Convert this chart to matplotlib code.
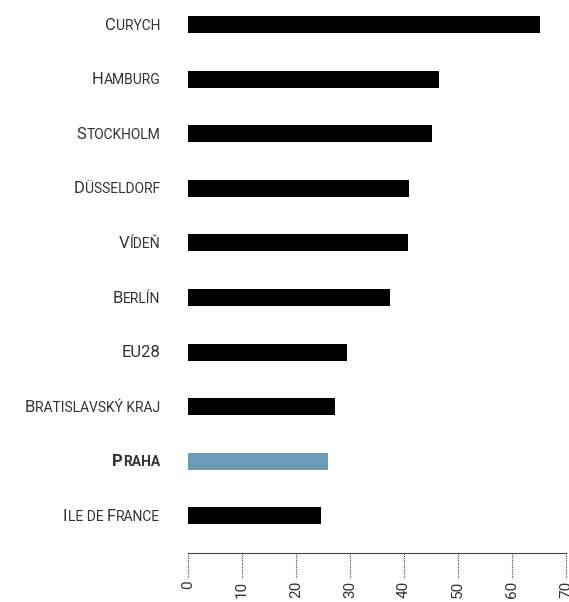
import matplotlib
matplotlib.use('Agg')
import matplotlib.pyplot as plt
import matplotlib.transforms as mtrans

cities = ['Curych', 'Hamburg', 'Stockholm', 'Düsseldorf', 'Vídeň', 'Berlín',
          'EU28', 'Bratislavský kraj', 'Praha', 'Ile de France']
values = [65.2, 46.5, 45.2, 40.9, 40.7, 37.4, 29.4, 27.2, 25.9, 24.6]
highlight = 'Praha'
ticks = [0, 10, 20, 30, 40, 50, 60, 70]

plt.rcParams['font.family'] = ['Roboto', 'DejaVu Sans']

fig = plt.figure(figsize=(5.69, 6.02), dpi=100)
ax = fig.add_axes([188 / 569, 49 / 602, 378 / 569, 553 / 602])

colors = ['#6a9cb8' if c == highlight else 'black' for c in cities]
ax.barh(range(len(cities)), values, height=0.31, color=colors)
ax.set_xlim(0, 70)
ax.set_ylim(9.68, -0.45)
ax.set_yticks([])

for s in ['top', 'right', 'left']:
    ax.spines[s].set_visible(False)
ax.spines['bottom'].set_linestyle((0, (1, 1)))
ax.spines['bottom'].set_linewidth(0.8)
ax.spines['bottom'].set_color('#444444')

# tecky misto tick-carek
ax.set_xticks(ticks)
ax.tick_params(axis='x', length=0, pad=20)
ax.set_xticklabels([str(t) for t in ticks], rotation=90, fontsize=11, color='#333333', va='top')
for t in ticks:
    ax.plot([t, t], [0, -0.045], transform=ax.get_xaxis_transform(), clip_on=False,
            color='#444444', lw=0.8, ls=(0, (1, 1)))


def runs(text):
    # rozdeli text na velka pismena a zbytek (kapitalky)
    out = []
    for ch in text:
        big = ch.isupper() or ch.isdigit()
        if out and out[-1][1] == big:
            out[-1][0] += ch
        else:
            out.append([ch, big])
    return out


renderer = fig.canvas.get_renderer()
for i, name in enumerate(cities):
    weight = 'bold' if name == highlight else 'normal'
    off = 28
    for txt, big in reversed(runs(name)):
        tr = mtrans.offset_copy(ax.get_yaxis_transform(), fig=fig, x=-off, y=-5, units='dots')
        t = ax.text(0, i, txt.upper(), transform=tr, ha='right', va='baseline',
                    fontsize=12 if big else 10, fontweight=weight, color='#333333')
        off += t.get_window_extent(renderer).width

fig.savefig('out.png', dpi=100)
